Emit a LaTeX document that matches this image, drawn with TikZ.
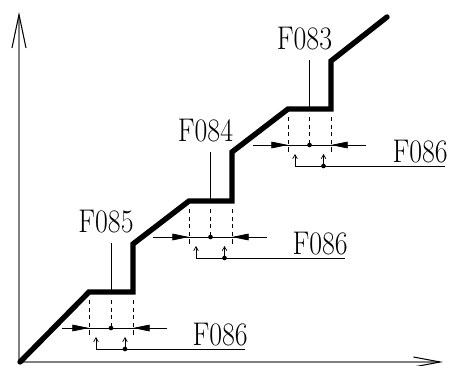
\documentclass[tikz,border=0pt]{standalone}
\usepackage{tikz}
\usetikzlibrary{arrows.meta}
\newcommand{\steplabel}[1]{\scalebox{0.85}[1]{#1}}

\begin{document}
\begin{tikzpicture}[x=0.03cm, y=-0.03cm,
    stair/.style={line width=4.6pt, line cap=round, line join=miter},
    dimline/.style={line width=0.6pt},
    extline/.style={line width=0.6pt, dash pattern=on 3.5pt off 3pt},
    axisline/.style={draw=gray, line width=0.9pt},
    lbl/.style={font=\fontsize{28}{28}\selectfont, inner sep=0pt},
    upbarb/.style={-{Straight Barb[length=3.5pt, width=4pt]}},
    dimtip/.style={-{Triangle[length=5mm, width=2mm]}}
]
    \useasboundingbox (0,0) rectangle (450,365);

    % axes
    \coordinate (origin) at (19,362);
    \coordinate (ytip) at (19,12);
    \coordinate (xtip) at (443,362);
    \draw[axisline, -{Straight Barb[length=10mm, width=4.2mm, black]}] (origin) -- (ytip);
    \draw[axisline, -{Straight Barb[length=8mm, width=3mm, black]}] (origin) -- (xtip);

    % staircase
    \draw[stair] (20,362) -- (89,292) -- (133,292) -- (133,244) -- (189,201)
        -- (232,201) -- (232,152) -- (288,109) -- (331,109) -- (331,61) -- (387,17);

    % tolerance marks on each tread
    \foreach \i/\xl/\xr/\ty/\dl/\dr/\br/\name in {
        1/89/133/292/62/167/245/F085,
        2/189/232/201/153/267/345/F084,
        3/288/331/109/253/366/445/F083} {
        \pgfmathsetmacro{\xm}{(\xl+\xr)/2}
        \coordinate (tm\i) at (\xm,\ty);
        \coordinate (lt\i) at (\xm,\ty-49);
        \coordinate (el\i) at (\xl,\ty+8);
        \coordinate (er\i) at (\xr,\ty+8);
        \coordinate (em\i) at (\xm,\ty+8);
        \coordinate (fl\i) at (\xl,\ty+45);
        \coordinate (fr\i) at (\xr,\ty+45);
        \coordinate (ml\i) at (\xl,\ty+36);
        \coordinate (mr\i) at (\xr,\ty+36);
        \coordinate (mm\i) at (\xm,\ty+36);
        \coordinate (dl\i) at (\dl,\ty+36);
        \coordinate (dr\i) at (\dr,\ty+36);
        \coordinate (be\i) at (\br,\ty+57);
        \coordinate (ba\i) at (\xl+7,\ty+57);
        \coordinate (bt\i) at (\xl+7,\ty+45);
        \coordinate (ma\i) at (\xm+14,\ty+57);
        \coordinate (mt\i) at (\xm+14,\ty+45);

        % step label
        \node[lbl] (lab\i) at (\xm-5,\ty-70) {\steplabel{\name}};
        \draw[dimline] (lt\i) -- (tm\i);

        % extension lines
        \draw[extline] (el\i) -- (fl\i);
        \draw[extline] (er\i) -- (fr\i);
        \draw[extline] (em\i) -- (mm\i);

        % dimension line
        \draw[dimline] (dl\i) -- (dr\i);
        \draw[dimline, dimtip] (dl\i) -- (ml\i);
        \draw[dimline, dimtip] (dr\i) -- (mr\i);
        \fill (mm\i) circle[radius=0.7mm];

        % reference bracket
        \draw[dimline, upbarb] (be\i) -- (ba\i) -- (bt\i);
        \draw[dimline, upbarb] (ma\i) -- (mt\i);
        \fill (ma\i) circle[radius=0.7mm];
        \node[lbl, anchor=base east] (ref\i) at (\br+3,\ty+53) {\steplabel{F086}};
    }
\end{tikzpicture}
\end{document}
